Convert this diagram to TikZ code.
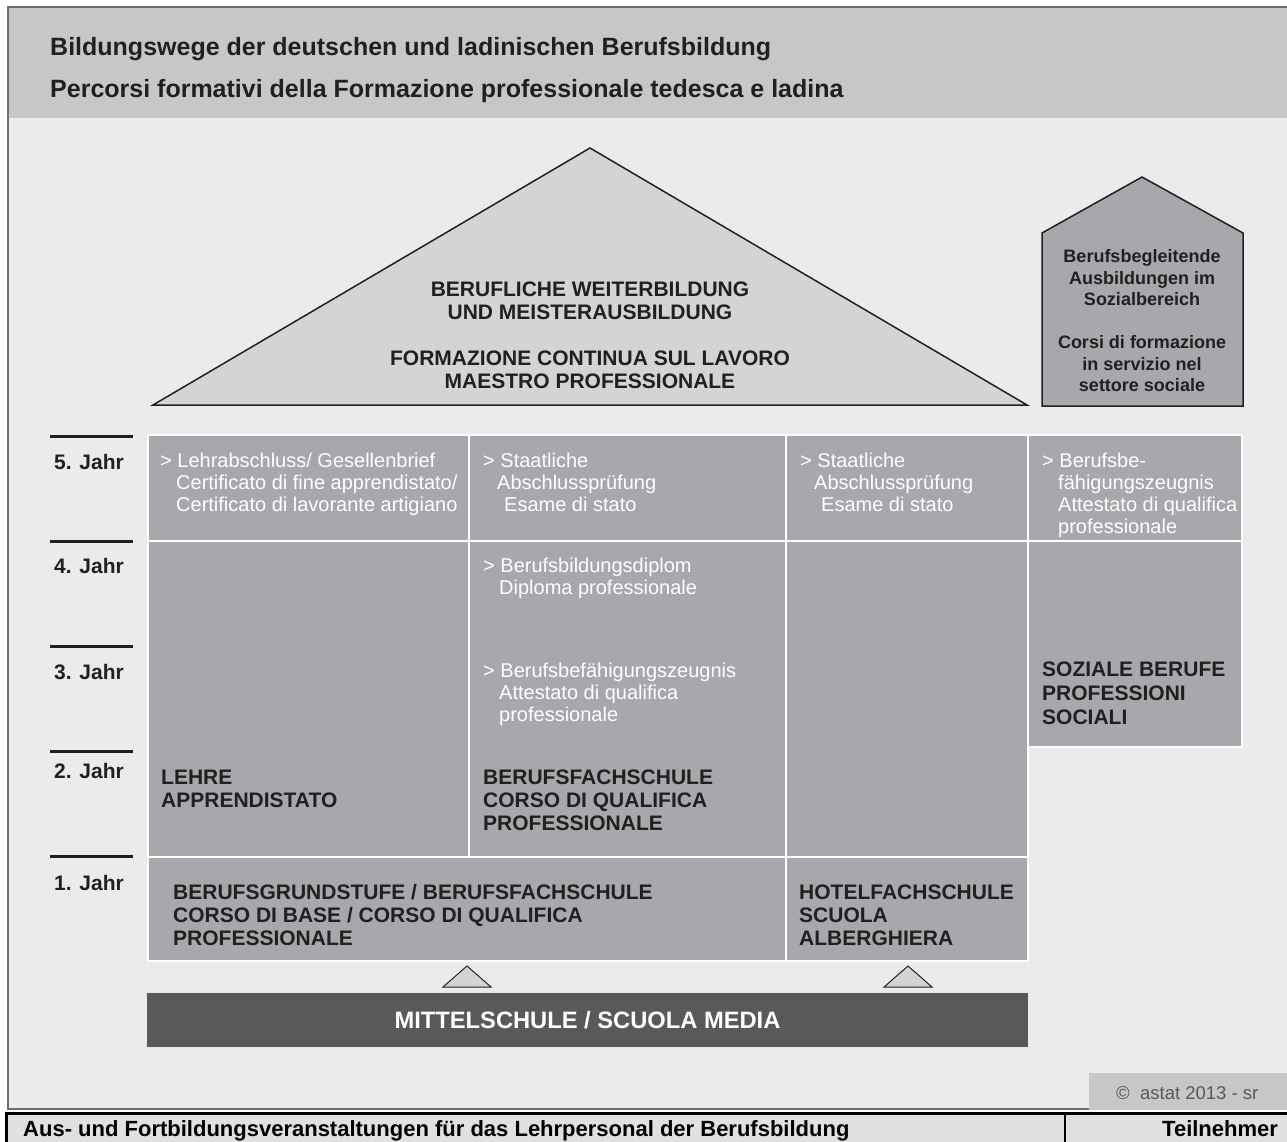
\documentclass[tikz,border=0pt]{standalone}
\usepackage{fontspec}
\setmainfont{Liberation Sans}

\definecolor{headgray}{HTML}{C6C7C9}
\definecolor{paper}{HTML}{EAEBEB}
\definecolor{cellgray}{HTML}{A7A8AB}
\definecolor{roofgray}{HTML}{D3D4D6}
\definecolor{bargray}{HTML}{58595B}
\definecolor{ink}{HTML}{231F20}
\definecolor{framegray}{HTML}{6D6E71}
\definecolor{footgray}{HTML}{E1E1E1}

\newcommand{\ind}{\hspace*{16pt}}
\newcommand{\fs}[2]{\fontsize{#1}{#2}\selectfont}

% multi-line nodes sit on the baseline of their last line
\tikzset{
	cell/.style={fill=cellgray, draw=white, line width=2pt},
	note/.style={anchor=base west, align=left, inner sep=0pt, text=white, font=\fs{20}{22}},
	head/.style={anchor=base west, align=left, inner sep=0pt, text=ink, font=\bfseries\fs{21}{23}},
	jahr/.style={anchor=base west, inner sep=0pt, text=ink, font=\bfseries\fs{21}{23}},
	title/.style={anchor=base west, inner sep=0pt, text=ink, font=\bfseries\fs{25}{30}},
	yearline/.style={line width=3pt, ink},
	roof/.style={fill=roofgray, draw=ink, line width=1.5pt, line join=miter},
}

\begin{document}
\begin{tikzpicture}[x=1pt, y=-1pt]
		%%%%% page %%%%%
		\useasboundingbox (0,0) rectangle (1287,1141);
		
		\fill[paper] (8,7) rectangle (1295,1109);
		\fill[headgray] (8,7) rectangle (1295,118);
		\draw[framegray, line width=1.5pt] (1295,7) -- (8,7) -- (8,1109) -- (1295,1109);
		
		\node[title] (titelde) at (50,55) {Bildungswege der deutschen und ladinischen Berufsbildung};
		\node[title] (titelit) at (50,97) {Percorsi formativi della Formazione professionale tedesca e ladina};
		
		%%%%% roof and side house %%%%%
		\draw[roof] (153,405) -- (590,148) -- (1027,405) -- cycle;
		\node[align=center, anchor=base, inner sep=0pt, text=ink, font=\bfseries\fs{21}{23}] (weiter) at (590,388)
			{BERUFLICHE WEITERBILDUNG\\UND MEISTERAUSBILDUNG\\[23pt]FORMAZIONE CONTINUA SUL LAVORO\\MAESTRO PROFESSIONALE};
		
		\draw[fill=cellgray, draw=ink, line width=1.5pt] (1042,406) -- (1042,233) -- (1142,177) -- (1243,233) -- (1243,406) -- cycle;
		\node[align=center, anchor=base, inner sep=0pt, text=ink, font=\bfseries\fs{18}{21.5}] (sozbereich) at (1142,391.5)
			{Berufsbegleitende\\Ausbildungen im\\Sozialbereich\\[21.5pt]Corsi di formazione\\in servizio nel\\settore sociale};
		
		%%%%% years %%%%%
		\draw[yearline] (50,436) -- (133,436);
		\draw[yearline] (50,541) -- (133,541);
		\draw[yearline] (50,646) -- (133,646);
		\draw[yearline] (50,751) -- (133,751);
		\draw[yearline] (50,856) -- (133,856);
		
		\node[jahr] (jahr5) at (54,469.5) {5. Jahr};
		\node[jahr] (jahr4) at (54,573.5) {4. Jahr};
		\node[jahr] (jahr3) at (54,679) {3. Jahr};
		\node[jahr] (jahr2) at (54,778.5) {2. Jahr};
		\node[jahr] (jahr1) at (54,890) {1. Jahr};
		
		%%%%% grid %%%%%
		\draw[cell] (148,435) rectangle (469,541);
		\draw[cell] (469,435) rectangle (786,541);
		\draw[cell] (786,435) rectangle (1028,541);
		\draw[cell] (1028,435) rectangle (1242,541);
		\draw[cell] (148,541) rectangle (469,857);
		\draw[cell] (469,541) rectangle (786,857);
		\draw[cell] (786,541) rectangle (1028,857);
		\draw[cell] (1028,541) rectangle (1242,747);
		\draw[cell] (148,857) rectangle (786,961);
		\draw[cell] (786,857) rectangle (1028,961);
		
		\node[note] (lehrabschluss) at (160,511) {> Lehrabschluss/ Gesellenbrief\\\ind Certificato di fine apprendistato/\\\ind Certificato di lavorante artigiano};
		\node[note] (staatlich) at (483,511) {> Staatliche\\\hspace*{14pt}Abschlussprüfung\\\hspace*{21pt}Esame di stato};
		\node[note] (staatlichhotel) at (800,511) {> Staatliche\\\hspace*{14pt}Abschlussprüfung\\\hspace*{21pt}Esame di stato};
		\node[note] (befaehigung) at (1042,533) {> Berufsbe-\\\ind fähigungszeugnis\\\ind Attestato di qualifica\\\ind professionale};
		\node[note] (diplom) at (483,594) {> Berufsbildungsdiplom\\\ind Diploma professionale};
		\node[note] (zeugnis) at (483,721) {> Berufsbefähigungszeugnis\\\ind Attestato di qualifica\\\ind professionale};
		
		\node[head] (lehre) at (161,807) {LEHRE\\APPRENDISTATO};
		\node[head] (fachschule) at (483,830) {BERUFSFACHSCHULE\\CORSO DI QUALIFICA\\PROFESSIONALE};
		\node[head, font=\bfseries\fs{21}{24}] (sozial) at (1042,724.5) {SOZIALE BERUFE\\PROFESSIONI\\SOCIALI};
		\node[head] (grundstufe) at (173,945.5) {BERUFSGRUNDSTUFE / BERUFSFACHSCHULE\\CORSO DI BASE / CORSO DI QUALIFICA\\PROFESSIONALE};
		\node[head] (hotel) at (799,945.5) {HOTELFACHSCHULE\\SCUOLA\\ALBERGHIERA};
		
		%%%%% middle school %%%%%
		\draw[fill=roofgray, draw=ink, line width=1pt] (443,987) -- (467,966) -- (491,987) -- cycle;
		\draw[fill=roofgray, draw=ink, line width=1pt] (884,987) -- (908,966) -- (932,987) -- cycle;
		
		\node[fill=bargray, minimum width=881pt, minimum height=54pt, inner sep=0pt, text=white, font=\bfseries\fs{23.7}{28}] (mittelschule) at (587.5,1019.7) {MITTELSCHULE / SCUOLA MEDIA};
		
		\fill[headgray] (1089,1073) rectangle (1295,1110);
		\node[anchor=base west, inner sep=0pt, text=bargray, font=\fs{18.5}{22}] (astat) at (1116,1099) {©\ \ astat 2013 - sr};
		
		%%%%% footer %%%%%
		\fill[footgray] (6,1113) rectangle (1295,1150);
		\draw[line width=3pt] (6,1150) -- (6,1113) -- (1295,1113);
		\draw[line width=2pt] (1065,1113) -- (1065,1150);
		\node[anchor=base west, inner sep=0pt, font=\bfseries\fs{22}{26}] (kurs) at (23,1136) {Aus- und Fortbildungsveranstaltungen für das Lehrpersonal der Berufsbildung};
		\node[anchor=base west, inner sep=0pt, font=\bfseries\fs{22}{26}] (teilnehmer) at (1162,1136) {Teilnehmer};
		
	\end{tikzpicture}
\end{document}
